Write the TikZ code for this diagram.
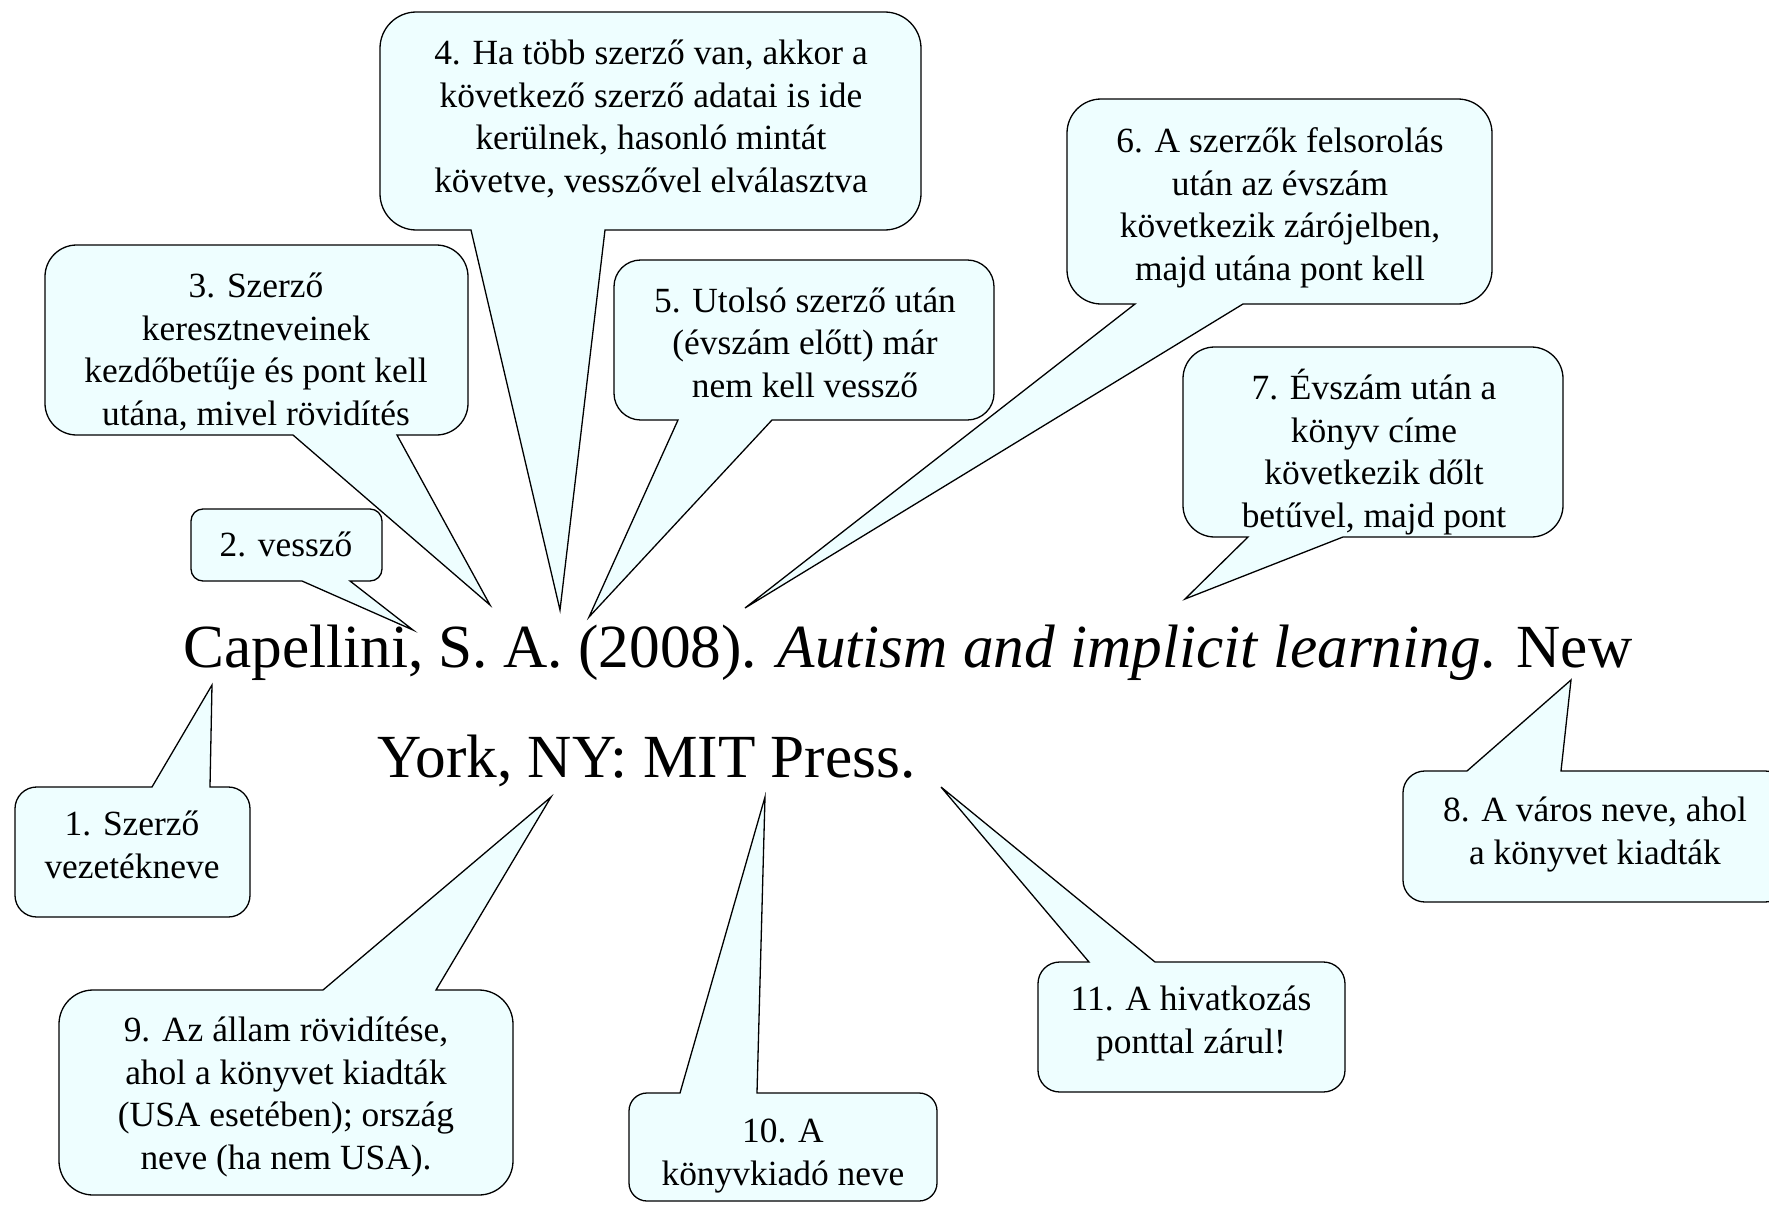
\documentclass[tikz,border=0pt]{standalone}
\usepackage{fontspec}
\setmainfont{Liberation Serif}
\definecolor{callfill}{RGB}{238,254,255}
\newcommand\cfont{\fontsize{17.7pt}{21.25pt}\selectfont}
\newcommand\mfont{\fontsize{30.65pt}{37pt}\selectfont}
\tikzset{
  callshape/.style={fill=callfill, draw=black, line width=0.65pt, line join=miter},
  calltext/.style={inner sep=0pt, align=center, anchor=base, font=\cfont},
  maintext/.style={inner sep=0pt, anchor=base west, font=\mfont}
}
% tail on the top edge: x1 y1 x2 y2 a b tipx tipy
\newcommand\calltop[8]{%
  \pgfmathsetmacro\rr{min(#3-#1,#4-#2)/6}%
  \pgfmathsetmacro\kk{0.448*\rr}%
  \filldraw[callshape] (#5,#2) -- (#7,#8) -- (#6,#2)
    -- ({#3-\rr},#2) .. controls ({#3-\kk},#2) and (#3,{#2+\kk}) .. (#3,{#2+\rr})
    -- (#3,{#4-\rr}) .. controls (#3,{#4-\kk}) and ({#3-\kk},#4) .. ({#3-\rr},#4)
    -- ({#1+\rr},#4) .. controls ({#1+\kk},#4) and (#1,{#4-\kk}) .. (#1,{#4-\rr})
    -- (#1,{#2+\rr}) .. controls (#1,{#2+\kk}) and ({#1+\kk},#2) .. ({#1+\rr},#2)
    -- cycle;}
% tail on the bottom edge: x1 y1 x2 y2 a b tipx tipy
\newcommand\callbot[8]{%
  \pgfmathsetmacro\rr{min(#3-#1,#4-#2)/6}%
  \pgfmathsetmacro\kk{0.448*\rr}%
  \filldraw[callshape] (#6,#4) -- (#7,#8) -- (#5,#4)
    -- ({#1+\rr},#4) .. controls ({#1+\kk},#4) and (#1,{#4-\kk}) .. (#1,{#4-\rr})
    -- (#1,{#2+\rr}) .. controls (#1,{#2+\kk}) and ({#1+\kk},#2) .. ({#1+\rr},#2)
    -- ({#3-\rr},#2) .. controls ({#3-\kk},#2) and (#3,{#2+\kk}) .. (#3,{#2+\rr})
    -- (#3,{#4-\rr}) .. controls (#3,{#4-\kk}) and ({#3-\kk},#4) .. ({#3-\rr},#4)
    -- cycle;}
\begin{document}
\begin{tikzpicture}[x=0.5pt,y=-0.5pt]
\useasboundingbox (0,0) rectangle (1769,1205);
\clip (0,0) rectangle (1769,1205);
\fill[white] (0,0) rectangle (1769,1205);

% callout shapes
\callbot{380}{12}{921}{230}{471}{605}{560}{610}
\callbot{45}{245}{468}{435}{293}{397}{490}{605}
\callbot{191}{509}{382}{581}{302}{350}{413}{630}
\callbot{614}{260}{994}{420}{678}{772}{589}{617}
\callbot{1067}{99}{1492}{304}{1135}{1243}{745}{608}
\callbot{1183}{347}{1563}{537}{1248}{1343}{1185}{599}
\calltop{15}{787}{250}{917}{152}{210}{212}{685}
\calltop{1403}{771}{1787}{902}{1467}{1561}{1571}{680}
\calltop{59}{990}{513}{1195}{323}{436}{551}{797}
\calltop{629}{1093}{937}{1201}{680}{757}{765}{797}
\calltop{1038}{962}{1345}{1092}{1089}{1155}{941}{787}

% callout texts (anchored at the baseline of their last line)
\node[calltext] (c1) at (132,878) {1. Szerző\\vezetékneve};
\node[calltext] (c2) at (286,556) {2. vessző};
\node[calltext] (c3) at (256,425) {3. Szerző\\keresztneveinek\\kezdőbetűje és pont kell\\utána, mivel rövidítés};
\node[calltext] (c4) at (651,192) {4. Ha több szerző van, akkor a\\következő szerző adatai is ide\\kerülnek, hasonló mintát\\követve, vesszővel elválasztva};
\node[calltext] (c5) at (805,397) {5. Utolsó szerző után\\(évszám előtt) már\\nem kell vessző};
\node[calltext] (c6) at (1280,280) {6. A szerzők felsorolás\\után az évszám\\következik zárójelben,\\majd utána pont kell};
\node[calltext] (c7) at (1374,527) {7. Évszám után a\\könyv címe\\következik dőlt\\betűvel, majd pont};
\node[calltext] (c8) at (1595,864) {8. A város neve, ahol\\a könyvet kiadták};
\node[calltext] (c9) at (286,1169) {9. Az állam rövidítése,\\ahol a könyvet kiadták\\(USA esetében); ország\\neve (ha nem USA).};
\node[calltext] (c10) at (783,1185) {10. A\\könyvkiadó neve};
\node[calltext] (c11) at (1191,1053) {11. A hivatkozás\\ponttal zárul!};

% main reference text
\node[maintext] (main1) at (183,667) {Capellini, S. A. (2008). \textit{Autism and implicit learning}. New};
\node[maintext] (main2) at (377,777) {York, NY: MIT Press.};
\end{tikzpicture}
\end{document}
